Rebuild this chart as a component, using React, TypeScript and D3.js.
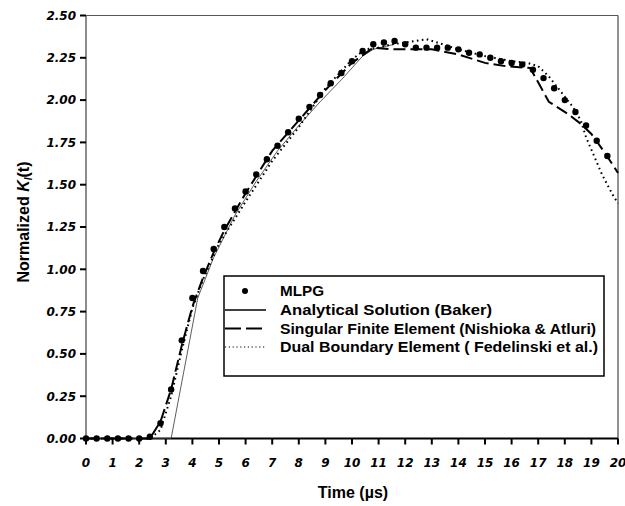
import React from "react";
import * as d3 from "d3";

const mlpgT = [0, 0.4, 0.8, 1.2, 1.6, 2.0, 2.4, 2.8, 3.2, 3.6, 4.0, 4.4, 4.8, 5.2, 5.6, 6.0, 6.4, 6.8, 7.2, 7.6, 8.0, 8.4, 8.8, 9.2, 9.6, 10.0, 10.4, 10.8, 11.2, 11.6, 12.0, 12.4, 12.8, 13.2, 13.6, 14.0, 14.4, 14.8, 15.2, 15.6, 16.0, 16.4, 16.8, 17.2, 17.6, 18.0, 18.4, 18.8, 19.2, 19.6];
const mlpgK = [0, 0, 0, 0, 0, 0, 0.01, 0.09, 0.29, 0.58, 0.83, 0.99, 1.12, 1.25, 1.36, 1.46, 1.56, 1.65, 1.73, 1.81, 1.89, 1.96, 2.03, 2.1, 2.16, 2.23, 2.29, 2.33, 2.34, 2.35, 2.33, 2.31, 2.31, 2.31, 2.31, 2.3, 2.28, 2.27, 2.25, 2.23, 2.22, 2.21, 2.18, 2.13, 2.07, 2.0, 1.93, 1.85, 1.76, 1.67];

const analyticalT = [0, 3.2, 4.2, 4.8, 5.6, 6.4, 7.2, 8.0, 8.8, 9.6, 10.4, 10.8, 11.6];
const analyticalK = [0, 0, 0.83, 1.07, 1.32, 1.52, 1.7, 1.85, 1.99, 2.12, 2.26, 2.3, 2.33];

const sfeT = [0, 2.4, 2.8, 3.2, 3.6, 4.0, 4.4, 4.8, 5.2, 6.0, 7.0, 8.0, 9.0, 10.0, 10.8, 11.5, 12.0, 13.0, 14.0, 15.0, 15.8, 16.7, 17.4, 18.1, 18.6, 19.0, 19.5, 20.0];
const sfeK = [0, 0, 0.1, 0.29, 0.55, 0.78, 0.95, 1.1, 1.23, 1.45, 1.7, 1.88, 2.06, 2.22, 2.31, 2.3, 2.3, 2.3, 2.27, 2.22, 2.2, 2.19, 1.99, 1.92, 1.86, 1.8, 1.69, 1.57];

const dbeT = [0, 2.4, 2.8, 3.2, 3.6, 4.0, 4.4, 5.0, 6.0, 7.0, 8.0, 9.0, 10.0, 10.5, 11.0, 11.5, 12.0, 12.8, 13.2, 14.0, 15.0, 16.0, 16.6, 17.0, 17.4, 17.8, 18.3, 18.6, 18.8, 19.1, 19.4, 19.8, 20.0];
const dbeK = [0, 0, 0.05, 0.25, 0.52, 0.77, 0.94, 1.15, 1.4, 1.64, 1.84, 2.07, 2.24, 2.3, 2.31, 2.33, 2.34, 2.36, 2.34, 2.3, 2.26, 2.23, 2.22, 2.2, 2.14, 2.06, 1.96, 1.88, 1.78, 1.67, 1.56, 1.44, 1.39];

const xTicks = d3.range(0, 21, 1);
const yTicks = [0, 0.25, 0.5, 0.75, 1.0, 1.25, 1.5, 1.75, 2.0, 2.25, 2.5];

const legendLabels = [
  "MLPG",
  "Analytical Solution (Baker)",
  "Singular Finite Element (Nishioka & Atluri)",
  "Dual Boundary Element ( Fedelinski et al.)",
];
const legendWidths = [44, 212, 316, 318];

const W = 625;
const H = 506;
const M = { left: 86, right: 618, top: 15.5, bottom: 438.5 };
const FONT = "'Liberation Sans', Arial, Helvetica, sans-serif";
const TICKFONT = "'DejaVu Sans', 'Liberation Sans', sans-serif";

export default function App() {
  const x = d3.scaleLinear().domain([0, 20]).range([M.left, M.right]);
  const y = d3.scaleLinear().domain([0, 2.5]).range([M.bottom, M.top]);
  const line = d3
    .line<[number, number]>()
    .x((d) => x(d[0]))
    .y((d) => y(d[1]));
  const zip = (a: number[], b: number[]) => a.map((t, i) => [t, b[i]] as [number, number]);

  const legX = 224;
  const legY = 276;
  const rowY = [291, 310, 328.5, 347];

  return (
    <svg
      width={W}
      height={H}
      style={{ position: "absolute", left: 0, top: 0, background: "#fff" }}
      fontFamily={FONT}
    >
      <rect width={W} height={H} fill="#fff" />
      {/* frame */}
      <line x1={M.left} x2={M.right} y1={M.top} y2={M.top} stroke="#555" strokeWidth={1} />
      <line x1={M.right} x2={M.right} y1={M.top} y2={M.bottom} stroke="#222" strokeWidth={1} />
      <line x1={M.left} x2={M.left} y1={M.top} y2={M.bottom} stroke="#666" strokeWidth={1.5} />
      <line x1={M.left - 1} x2={M.right} y1={M.bottom} y2={M.bottom} stroke="#000" strokeWidth={2} />

      {/* y ticks */}
      {yTicks.map((v) => (
        <g key={"y" + v}>
          <line x1={M.left - 6} x2={M.left} y1={y(v)} y2={y(v)} stroke="#000" strokeWidth={2} />
          <text
            x={76}
            y={y(v)}
            dy="0.36em"
            textAnchor="end"
            fontSize={12}
            fontWeight="bold"
            fontStyle="italic"
            fontFamily={TICKFONT}
          >
            {v.toFixed(2)}
          </text>
        </g>
      ))}
      {/* x ticks */}
      {xTicks.map((v) => (
        <g key={"x" + v}>
          <line x1={x(v)} x2={x(v)} y1={M.bottom} y2={M.bottom + 6} stroke="#000" strokeWidth={2} />
          <text
            x={x(v)}
            y={466.5}
            textAnchor="middle"
            fontSize={12}
            fontWeight="bold"
            fontStyle="italic"
            fontFamily={TICKFONT}
          >
            {v}
          </text>
        </g>
      ))}

      {/* axis titles */}
      <text x={353} y={498} textAnchor="middle" fontSize={16} fontWeight="bold">
        Time (µs)
      </text>
      <text
        transform={`translate(29, 222) rotate(-90)`}
        textAnchor="middle"
        fontSize={16}
        fontWeight="bold"
      >
        Normalized{" "}
        <tspan fontStyle="italic">K</tspan>
        <tspan fontSize={10} dy={3} fontStyle="italic">I</tspan>
        <tspan dy={-3}>(t)</tspan>
      </text>

      {/* series */}
      <path d={line(zip(analyticalT, analyticalK)) || ""} fill="none" stroke="#333" strokeWidth={0.8} />
      <path
        d={line(zip(sfeT, sfeK)) || ""}
        fill="none"
        stroke="#000"
        strokeWidth={2}
        strokeDasharray="12,5"
      />
      <path
        d={line(zip(dbeT, dbeK)) || ""}
        fill="none"
        stroke="#000"
        strokeWidth={2}
        strokeDasharray="1.6,3.4"
      />
      {mlpgT.map((t, i) => (
        <circle key={"m" + i} cx={x(t)} cy={y(mlpgK[i])} r={3.2} fill="#000" />
      ))}

      {/* legend */}
      <rect x={legX} y={legY} width={380} height={100} fill="#fff" stroke="#000" strokeWidth={1.5} />
      <circle cx={245} cy={rowY[0]} r={3} fill="#000" />
      <line x1={225} x2={266} y1={rowY[1]} y2={rowY[1]} stroke="#000" strokeWidth={1.6} />
      <line x1={225} x2={266} y1={rowY[2]} y2={rowY[2]} stroke="#000" strokeWidth={2} strokeDasharray="16,5" />
      <line x1={225} x2={266} y1={rowY[3]} y2={rowY[3]} stroke="#000" strokeWidth={1.2} strokeDasharray="1.2,2.6" />
      {legendLabels.map((s, i) => (
        <text
          key={s}
          x={280}
          y={rowY[i]}
          dy="0.36em"
          fontSize={14.5}
          fontWeight="bold"
          textLength={legendWidths[i]}
          lengthAdjust="spacingAndGlyphs"
        >
          {s}
        </text>
      ))}
    </svg>
  );
}
